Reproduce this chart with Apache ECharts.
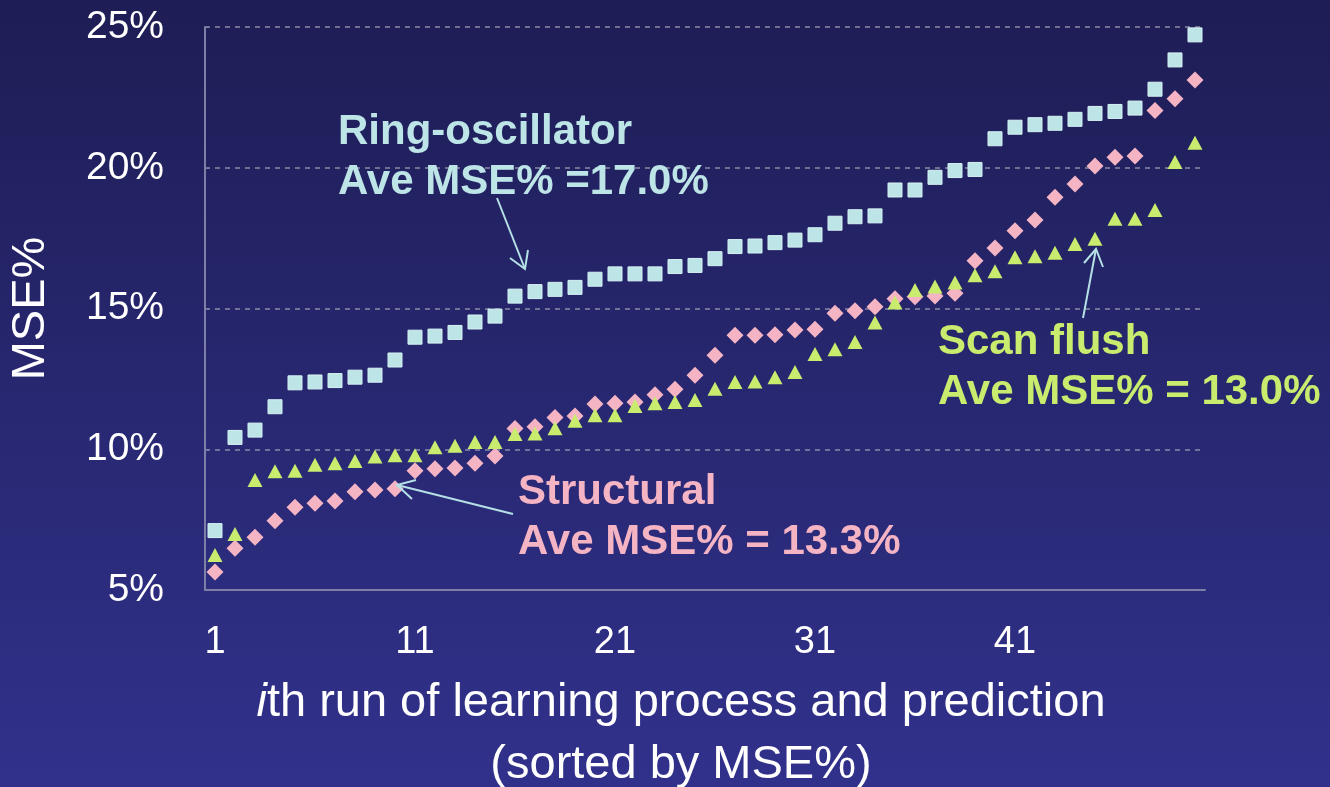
<!DOCTYPE html>
<html>
<head>
<meta charset="utf-8">
<script src="https://cdn.jsdelivr.net/npm/echarts@6/dist/echarts.min.js"></script>
<style>
  html, body { margin: 0; padding: 0; }
  #main { width: 1330px; height: 787px; }
</style>
</head>
<body>
<div id="main"></div>
<script>
  // run index 1..50 (sorted by MSE%)
  var runs = [];
  for (var i = 1; i <= 50; i++) runs.push(String(i));

  var yTicks = [5, 10, 15, 20, 25];

  var ringOsc = [7.11, 10.42, 10.68, 11.51, 12.36, 12.39, 12.44, 12.56, 12.63, 13.17,
    13.98, 14.02, 14.15, 14.52, 14.73, 15.44, 15.60, 15.68, 15.75, 16.04,
    16.23, 16.23, 16.23, 16.49, 16.53, 16.77, 17.20, 17.22, 17.34, 17.43,
    17.62, 18.03, 18.26, 18.29, 19.21, 19.21, 19.66, 19.90, 19.94, 21.03,
    21.44, 21.53, 21.58, 21.72, 21.93, 22.00, 22.12, 22.79, 23.83, 24.72];

  var structural = [5.64, 6.48, 6.87, 7.46, 7.94, 8.08, 8.16, 8.49, 8.55, 8.60,
    9.24, 9.31, 9.33, 9.50, 9.76, 10.74, 10.80, 11.13, 11.18, 11.61,
    11.63, 11.68, 11.94, 12.13, 12.63, 13.34, 14.05, 14.05, 14.07, 14.24,
    14.26, 14.83, 14.92, 15.06, 15.35, 15.42, 15.44, 15.54, 16.70, 17.15,
    17.76, 18.14, 18.95, 19.42, 20.06, 20.37, 20.42, 22.03, 22.45, 23.12];

  var scanFlush = [6.24, 6.99, 8.91, 9.22, 9.24, 9.45, 9.50, 9.58, 9.74, 9.79,
    9.79, 10.07, 10.12, 10.26, 10.26, 10.54, 10.56, 10.75, 11.01, 11.21,
    11.21, 11.54, 11.63, 11.68, 11.75, 12.15, 12.39, 12.41, 12.56, 12.74,
    13.38, 13.55, 13.81, 14.50, 15.21, 15.66, 15.78, 15.92, 16.18, 16.32,
    16.82, 16.86, 16.98, 17.29, 17.48, 18.19, 18.19, 18.50, 20.20, 20.89];

  var FONT = '"Liberation Sans", Arial, sans-serif';
  var cyan = '#bde4e7', pink = '#f5b4c3', lime = '#c9ec6e', arrowCol = '#b4e0e6';

  var myChart = echarts.init(document.getElementById('main'));

  var option = {
    animation: false,
    backgroundColor: {
      type: 'linear', x: 0, y: 0, x2: 0, y2: 1,
      colorStops: [{ offset: 0, color: '#1e1d55' }, { offset: 1, color: '#31318c' }]
    },
    grid: { left: 203, right: 125, top: 27, bottom: 197 },
    xAxis: {
      type: 'category',
      data: runs,
      boundaryGap: true,
      axisLine: { lineStyle: { color: '#7d7fa6', width: 2 } },
      axisTick: { show: false },
      axisLabel: {
        interval: 9,
        color: '#fff',
        fontSize: 38,
        fontFamily: FONT,
        margin: 34
      },
      splitLine: { show: false }
    },
    yAxis: {
      type: 'value',
      min: 5, max: 25, interval: 5,
      name: 'MSE%',
      nameLocation: 'middle',
      nameGap: 150,
      nameTextStyle: { color: '#fff', fontSize: 47, fontFamily: FONT },
      axisLine: { show: true, lineStyle: { color: '#7d7fa6', width: 2 } },
      axisTick: { show: true, inside: true, length: 4, lineStyle: { color: '#7d7fa6' } },
      axisLabel: {
        color: '#fff',
        fontSize: 39,
        fontFamily: FONT,
        margin: 41,
        formatter: function (v) { return yTicks.indexOf(v) >= 0 ? v + '%' : ''; }
      },
      splitLine: { show: true, lineStyle: { color: '#8a8ba6', type: [5, 5], width: 1.5 } }
    },
    series: [
      {
        name: 'Ring-oscillator', type: 'scatter',
        symbol: 'rect', symbolSize: [14, 14],
        itemStyle: { color: cyan, borderColor: '#d6f2f3', borderWidth: 1, opacity: 1 },
        data: ringOsc
      },
      {
        name: 'Structural', type: 'scatter',
        symbol: 'diamond', symbolSize: [17, 17],
        itemStyle: { color: pink, opacity: 1 },
        data: structural
      },
      {
        name: 'Scan flush', type: 'scatter',
        symbol: 'triangle', symbolSize: [15, 14],
        itemStyle: { color: lime, opacity: 1 },
        data: scanFlush
      }
    ],
    graphic: [
      // annotation texts
      {
        type: 'text', x: 338, y: 157, z: 10,
        style: {
          text: 'Ring-oscillator\nAve MSE% =17.0%',
          fill: cyan, font: 'bold 42px ' + FONT,
          lineHeight: 50, align: 'left', verticalAlign: 'middle'
        }
      },
      {
        type: 'text', x: 518, y: 517, z: 10,
        style: {
          text: 'Structural\nAve MSE% = 13.3%',
          fill: pink, font: 'bold 42px ' + FONT,
          lineHeight: 50, align: 'left', verticalAlign: 'middle'
        }
      },
      {
        type: 'text', x: 938, y: 367, z: 10,
        style: {
          text: 'Scan flush\nAve MSE% = 13.0%',
          fill: lime, font: 'bold 42px ' + FONT,
          lineHeight: 50, align: 'left', verticalAlign: 'middle'
        }
      },
      // arrows
      { type: 'polyline', z: 10, shape: { points: [[497, 198], [525, 269]] }, style: { stroke: arrowCol, lineWidth: 2 } },
      { type: 'polyline', z: 10, shape: { points: [[510, 258], [525, 269], [528, 250]] }, style: { stroke: arrowCol, lineWidth: 2, fill: null } },
      { type: 'polyline', z: 10, shape: { points: [[513, 514], [397, 485]] }, style: { stroke: arrowCol, lineWidth: 2 } },
      { type: 'polyline', z: 10, shape: { points: [[416, 480], [397, 485], [412, 499]] }, style: { stroke: arrowCol, lineWidth: 2, fill: null } },
      { type: 'polyline', z: 10, shape: { points: [[1083, 318], [1096, 249]] }, style: { stroke: arrowCol, lineWidth: 2 } },
      { type: 'polyline', z: 10, shape: { points: [[1084, 263], [1096, 249], [1103, 267]] }, style: { stroke: arrowCol, lineWidth: 2, fill: null } },
      // x axis title
      {
        type: 'text', x: 681, y: 734, z: 10,
        style: {
          text: '{it|i}th run of learning process and prediction\n(sorted by MSE%)',
          fill: '#fff', font: '47px ' + FONT,
          lineHeight: 62, align: 'center', verticalAlign: 'middle',
          rich: {
            it: { fontStyle: 'italic', fontSize: 47, fontFamily: FONT, fill: '#fff', lineHeight: 62 }
          }
        }
      }
    ]
  };
  myChart.setOption(option);
</script>
</body>
</html>
